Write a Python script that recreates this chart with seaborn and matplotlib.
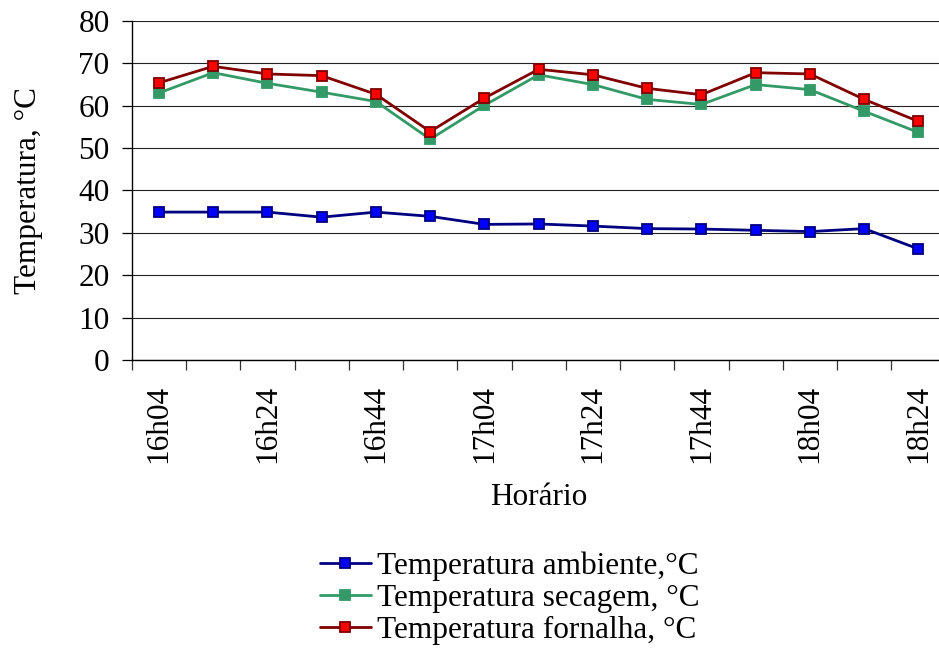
import numpy as np
import matplotlib
matplotlib.use("Agg")
import matplotlib.pyplot as plt
from matplotlib.ticker import FixedLocator
import seaborn as sns

# Sampling times (every 10 minutes) and temperatures in °C
horarios = ["16h04", "16h14", "16h24", "16h34", "16h44", "16h54", "17h04", "17h14",
            "17h24", "17h34", "17h44", "17h54", "18h04", "18h14", "18h24"]
temp_ambiente = [34.9, 34.9, 34.9, 33.7, 34.9, 33.9, 32.0, 32.1, 31.6, 31.0, 30.9, 30.6, 30.3, 31.0, 26.2]
temp_secagem = [63.0, 67.8, 65.3, 63.2, 61.0, 52.1, 60.1, 67.3, 65.0, 61.5, 60.3, 65.0, 63.8, 58.7, 53.7]
temp_fornalha = [65.4, 69.3, 67.5, 67.1, 62.7, 53.9, 61.8, 68.6, 67.3, 64.1, 62.6, 67.8, 67.5, 61.5, 56.3]

series_labels = ["Temperatura ambiente,°C", "Temperatura secagem, °C", "Temperatura fornalha, °C"]
y_ticks = [0, 10, 20, 30, 40, 50, 60, 70, 80]

sns.set_style("white")
plt.rcParams["font.family"] = ["Liberation Serif", "DejaVu Serif"]
plt.rcParams["font.size"] = 22.5
for key in ("text.color", "axes.labelcolor", "xtick.color", "ytick.color"):
    plt.rcParams[key] = "black"

fig = plt.figure(figsize=(9.39, 6.5), dpi=100)
# plot area runs slightly past the right edge of the canvas
ax = fig.add_axes([0.1403, 0.4462, 0.8667, 0.5215])

pos = np.arange(len(horarios))
styles = [
    (temp_ambiente, "#000080", "#0000FF", "#000080"),
    (temp_secagem, "#339966", "#339966", "#339966"),
    (temp_fornalha, "#800000", "#FF0000", "#800000"),
]
for (vals, lc, mfc, mec), lab in zip(styles, series_labels):
    sns.lineplot(x=pos, y=vals, ax=ax, color=lc, linewidth=2.0, marker="s",
                 markersize=6.5, markerfacecolor=mfc, markeredgecolor=mec,
                 markeredgewidth=1.3, label=lab, clip_on=False, zorder=3)

ax.set_xlim(-0.5, len(horarios) - 0.5)
ax.set_ylim(0, 80)

# y axis
ax.yaxis.set_major_locator(FixedLocator(y_ticks))
ax.yaxis.grid(True, color="#222222", linewidth=0.8)
ax.xaxis.grid(False)
ax.tick_params(axis="y", which="major", direction="out", length=7, width=0.9,
               color="black", pad=9, left=True, labelsize=22.5, labelcolor="black")

# x axis: labels on every other category, tick marks between categories
ax.set_xticks(pos[::2])
ax.set_xticklabels(horarios[::2], rotation=90)
ax.xaxis.set_minor_locator(FixedLocator(np.arange(-0.5, len(horarios) - 0.4, 1.0)))
ax.tick_params(axis="x", which="major", length=0, pad=18, labelsize=22.5, bottom=True,
               labelcolor="black")
ax.tick_params(axis="x", which="minor", direction="out", length=7, width=0.9,
               color="#333333", bottom=True)

for side in ("top", "right"):
    ax.spines[side].set_visible(False)
for side in ("left", "bottom"):
    ax.spines[side].set_color("black")
    ax.spines[side].set_linewidth(1.0)

ax.set_xlabel("Horário", fontsize=22.5, color="black")
ax.xaxis.set_label_coords(0.5, -0.362)
ax.set_ylabel("Temperatura, °C", fontsize=22.5, color="black")
ax.yaxis.set_label_coords(-0.109, 0.5)

handles, labels = ax.get_legend_handles_labels()
if ax.get_legend() is not None:
    ax.get_legend().remove()
leg = fig.legend(handles, labels, loc="center left", bbox_to_anchor=(320 / 939, 1 - 598 / 650),
                 frameon=False, borderpad=0, borderaxespad=0, handlelength=1.63,
                 handletextpad=0.2, labelspacing=0.1, fontsize=22.5)
for t in leg.get_texts():
    t.set_color("black")

fig.savefig("out.png", dpi=100)
